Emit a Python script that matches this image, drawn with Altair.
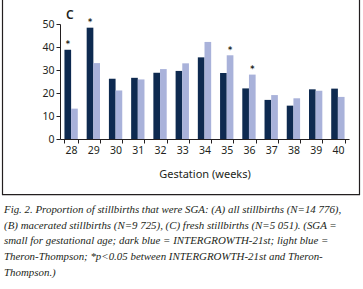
import altair as alt
import pandas as pd

weeks = [28, 29, 30, 31, 32, 33, 34, 35, 36, 37, 38, 39, 40]
intergrowth = [38.8, 48.4, 26.2, 26.6, 28.8, 29.6, 35.5, 28.7, 22.0, 17.0, 14.5, 21.6, 21.9]
theron = [13.2, 33.0, 21.1, 25.9, 30.4, 32.9, 42.2, 36.4, 28.0, 19.1, 17.7, 21.0, 18.3]
significant = [28, 29, 35, 36]
series_names = ["INTERGROWTH-21st", "Theron-Thompson"]
series_colors = ["#0e2a50", "#a9b2da"]
panel_label = "C"
x_title = "Gestation (weeks)"
y_ticks = [0, 10, 20, 30, 40, 50]
caption_lines = [
    "Fig. 2. Proportion of stillbirths that were SGA: (A) all stillbirths (N=14 776),",
    "(B) macerated stillbirths (N=9 725), (C) fresh stillbirths (N=5 051). (SGA =",
    "small for gestational age; dark blue = INTERGROWTH-21st; light blue =",
    "Theron-Thompson; *p<0.05 between INTERGROWTH-21st and Theron-",
    "Thompson.)",
]

rows = []
for w, a, b in zip(weeks, intergrowth, theron):
    rows.append({"week": w, "series": series_names[0], "value": a})
    rows.append({"week": w, "series": series_names[1], "value": b})
df = pd.DataFrame(rows)

sig_rows = []
for w, a, b in zip(weeks, intergrowth, theron):
    if w in significant:
        if a >= b:
            sig_rows.append({"week": w, "series": series_names[0], "value": a, "mark": "*"})
        else:
            sig_rows.append({"week": w, "series": series_names[1], "value": b, "mark": "*"})
sig = pd.DataFrame(sig_rows)

FONT = "Noto Sans"
TXT = "#231f20"

x_enc = alt.X(
    "week:O",
    scale=alt.Scale(paddingInner=0.4, paddingOuter=0.2),
    axis=alt.Axis(
        title=x_title,
        labelAngle=0,
        tickBand="extent",
        tickSize=4,
        labelPadding=2,
        titlePadding=13,
        domainColor="#231f20",
        tickColor="#231f20",
        labelColor=TXT,
        titleColor=TXT,
        labelFont=FONT,
        titleFont=FONT,
        labelFontSize=10.5,
        titleFontSize=11,
        titleFontWeight="normal",
    ),
)
xoff = alt.XOffset("series:N", sort=series_names)
y_enc = alt.Y(
    "value:Q",
    scale=alt.Scale(domain=[0, 50], nice=False),
    axis=alt.Axis(
        title=None,
        values=y_ticks,
        tickSize=4,
        labelPadding=2,
        labelOverlap=False,
        grid=False,
        domainColor="#231f20",
        tickColor="#231f20",
        labelColor=TXT,
        labelFont=FONT,
        labelFontSize=10.5,
    ),
)

bars = alt.Chart(df).mark_bar().encode(
    x=x_enc,
    xOffset=xoff,
    y=y_enc,
    color=alt.Color(
        "series:N",
        scale=alt.Scale(domain=series_names, range=series_colors),
        legend=None,
    ),
)

stars = alt.Chart(sig).mark_text(
    font="DejaVu Sans", fontSize=8, fontWeight="bold", baseline="alphabetic", dy=-2.5, color="#231f20"
).encode(x=x_enc, xOffset=xoff, y=y_enc, text="mark:N")

one = pd.DataFrame({"k": [0]})

label = alt.Chart(one).mark_text(
    text=panel_label, font=FONT, fontSize=12, fontWeight=600, align="left",
    baseline="alphabetic", color=TXT,
).encode(x=alt.value(6), y=alt.value(-5))

border = alt.Chart(one).mark_rect(
    fill="transparent", stroke="#231f20", strokeWidth=1.2
).encode(x=alt.value(-57.5), x2=alt.value(299.5), y=alt.value(-40), y2=alt.value(170.7))

caption = alt.Chart(one).mark_text(
    text=caption_lines, font="Liberation Serif", fontStyle="italic", fontSize=10.9,
    align="left", baseline="alphabetic", lineHeight=15.7, color=TXT,
).encode(x=alt.value(-56), y=alt.value(189))

chart = alt.layer(border, bars, stars, label, caption).properties(
    width=289,
    height=115,
    autosize=alt.AutoSizeParams(type="none"),
    padding={"left": 60, "top": 24, "right": 14, "bottom": 150},
    background="white",
).configure_view(strokeWidth=0)

chart.save("out.html", embed_options={"renderer": "svg", "actions": False})
